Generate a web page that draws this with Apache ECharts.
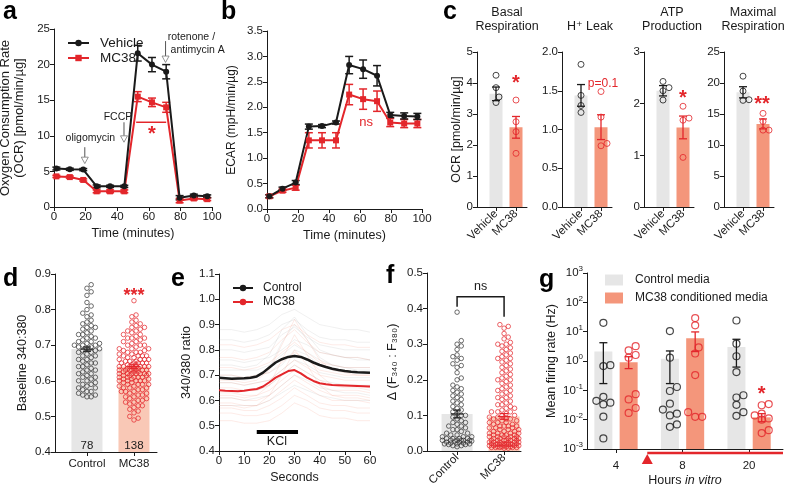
<!DOCTYPE html>
<html>
<head>
<meta charset="utf-8">
<script src="https://cdn.jsdelivr.net/npm/echarts@6/dist/echarts.min.js"></script>
<style>
  html, body { margin: 0; padding: 0; background: #fff; }
  #main { width: 787px; height: 488px; }
</style>
</head>
<body>
<div id="main"></div>
<script>
// ---------- data ----------
// a, b : Seahorse time course
const seahorseMinutes = [1.5, 10, 18.5, 27, 35.5, 44.5, 53, 62, 71, 79.5, 88.5, 97];
const ocrVehicle    = [5.4, 5.3, 5.25, 2.9, 2.9, 2.9, 21.6, 20.0, 19.0, 1.3, 1.6, 1.5];
const ocrVehicleSem = [0.2, 0.15, 0.15, 0.2, 0.15, 0.15, 1.1, 1.0, 1.0, 0.3, 0.2, 0.2];
const ocrMC38       = [4.3, 4.2, 3.8, 2.2, 2.2, 2.2, 15.5, 14.7, 14.0, 0.9, 1.2, 1.1];
const ocrMC38Sem    = [0.15, 0.15, 0.15, 0.2, 0.2, 0.2, 0.7, 0.6, 0.7, 0.3, 0.2, 0.2];
const ecarVehicle    = [0.25, 0.40, 0.52, 1.62, 1.63, 1.70, 2.83, 2.75, 2.62, 1.85, 1.83, 1.82];
const ecarVehicleSem = [0.03, 0.03, 0.04, 0.05, 0.03, 0.03, 0.17, 0.18, 0.2, 0.05, 0.06, 0.06];
const ecarMC38       = [0.25, 0.36, 0.42, 1.35, 1.35, 1.35, 2.25, 2.16, 2.12, 1.70, 1.68, 1.68];
const ecarMC38Sem    = [0.03, 0.03, 0.05, 0.15, 0.15, 0.15, 0.2, 0.2, 0.2, 0.08, 0.08, 0.08];

// c : OCR parameters
const ocrGroups = ['Vehicle', 'MC38'];
const ocrMeans = [[3.65, 2.57], [1.44, 1.03], [2.25, 1.54], [18.5, 13.4]];
const ocrSem = [[0.22, 0.35], [0.14, 0.16], [0.1, 0.22], [0.9, 0.8]];
const ocrPointsVehicle = [[4.25, 3.85, 3.55, 3.37], [1.84, 1.44, 1.31, 1.22], [2.43, 2.31, 2.25, 2.07], [21.1, 18.7, 17.3, 17.2]];
const ocrPointsMC38 = [[3.45, 2.75, 2.43, 1.73], [1.49, 1.16, 0.82, 0.79], [1.95, 1.72, 1.68, 0.96], [15.1, 13.8, 12.4, 12.4]];

// d : baseline 340:380
const cellGroups = ['Control', 'MC38'];
const cellCounts = ['78', '138'];
const baselineMeans = [0.689, 0.640];
const baselineSem = [0.006, 0.005];
const baselineControl = [
  0.87, 0.86, 0.85, 0.84, 0.82, 0.81, 0.80, 0.79, 0.785, 0.78,
  0.77, 0.765, 0.76, 0.755, 0.75, 0.75, 0.745, 0.74, 0.735, 0.73,
  0.73, 0.725, 0.72, 0.72, 0.715, 0.71, 0.71, 0.705, 0.705, 0.70,
  0.70, 0.70, 0.695, 0.695, 0.69, 0.69, 0.685, 0.685, 0.68, 0.68,
  0.675, 0.67, 0.67, 0.665, 0.66, 0.66, 0.655, 0.65, 0.65, 0.645,
  0.64, 0.64, 0.635, 0.63, 0.63, 0.625, 0.62, 0.62, 0.615, 0.61,
  0.61, 0.605, 0.60, 0.60, 0.595, 0.59, 0.585, 0.58, 0.58, 0.575,
  0.57, 0.57, 0.565, 0.56, 0.56, 0.555, 0.555, 0.59];
const baselineMC38 = [
  0.825, 0.785, 0.78, 0.77, 0.765, 0.76, 0.755, 0.75, 0.75, 0.745,
  0.74, 0.74, 0.735, 0.73, 0.73, 0.725, 0.72, 0.72, 0.715, 0.71,
  0.71, 0.705, 0.70, 0.70, 0.70, 0.695, 0.69, 0.69, 0.685, 0.685,
  0.68, 0.68, 0.675, 0.675, 0.67, 0.67, 0.67, 0.665, 0.665, 0.66,
  0.66, 0.66, 0.655, 0.655, 0.655, 0.65, 0.65, 0.65, 0.645, 0.645,
  0.645, 0.64, 0.64, 0.64, 0.64, 0.635, 0.635, 0.635, 0.63, 0.63,
  0.63, 0.63, 0.625, 0.625, 0.625, 0.62, 0.62, 0.62, 0.62, 0.615,
  0.615, 0.615, 0.61, 0.61, 0.61, 0.605, 0.605, 0.605, 0.60, 0.60,
  0.60, 0.60, 0.595, 0.595, 0.59, 0.59, 0.59, 0.585, 0.585, 0.58,
  0.58, 0.58, 0.575, 0.575, 0.57, 0.57, 0.565, 0.565, 0.56, 0.56,
  0.555, 0.555, 0.55, 0.55, 0.545, 0.545, 0.54, 0.54, 0.535, 0.53,
  0.53, 0.525, 0.52, 0.515, 0.51, 0.50, 0.495, 0.49, 0.62, 0.63,
  0.64, 0.65, 0.61, 0.62, 0.63, 0.64, 0.66, 0.60, 0.59, 0.67,
  0.68, 0.57, 0.61, 0.65, 0.69, 0.72, 0.63, 0.62];

// e : KCl traces
const eSeconds = [0, 2.5, 5, 7.5, 10, 12.5, 15, 17.5, 20, 22.5, 25, 27.5, 30, 32.5, 35, 37.5, 40, 42.5, 45, 47.5, 50, 52.5, 55, 57.5, 60];
const traceMeanControl = [0.690, 0.688, 0.686, 0.687, 0.688, 0.690, 0.695, 0.710, 0.730, 0.750, 0.763, 0.772, 0.776, 0.772, 0.762, 0.750, 0.740, 0.732, 0.725, 0.720, 0.716, 0.713, 0.711, 0.710, 0.709];
const traceMeanMC38 = [0.640, 0.638, 0.637, 0.636, 0.638, 0.642, 0.645, 0.655, 0.672, 0.690, 0.703, 0.716, 0.720, 0.707, 0.690, 0.677, 0.668, 0.664, 0.661, 0.660, 0.659, 0.658, 0.657, 0.656, 0.655];
const traceSeconds = [0, 5, 10, 15, 20, 25, 30, 35, 40, 45, 50, 55, 60];
const tracesControl = [
  [0.88, 0.88, 0.87, 0.88, 0.90, 0.94, 0.96, 0.93, 0.90, 0.89, 0.88, 0.88, 0.87],
  [0.84, 0.84, 0.83, 0.84, 0.86, 0.90, 0.92, 0.88, 0.85, 0.84, 0.84, 0.83, 0.83],
  [0.80, 0.80, 0.79, 0.80, 0.81, 0.86, 0.89, 0.85, 0.82, 0.81, 0.80, 0.80, 0.80],
  [0.76, 0.76, 0.75, 0.76, 0.77, 0.80, 0.84, 0.82, 0.79, 0.78, 0.77, 0.77, 0.76],
  [0.72, 0.72, 0.72, 0.72, 0.74, 0.78, 0.82, 0.79, 0.76, 0.74, 0.73, 0.73, 0.73],
  [0.70, 0.70, 0.69, 0.70, 0.71, 0.74, 0.80, 0.78, 0.74, 0.72, 0.71, 0.71, 0.71],
  [0.67, 0.67, 0.66, 0.67, 0.68, 0.72, 0.76, 0.74, 0.71, 0.70, 0.69, 0.69, 0.69],
  [0.64, 0.64, 0.64, 0.64, 0.66, 0.70, 0.74, 0.71, 0.68, 0.67, 0.66, 0.66, 0.66],
  [0.61, 0.61, 0.60, 0.61, 0.62, 0.66, 0.70, 0.68, 0.65, 0.64, 0.63, 0.63, 0.62],
  [0.58, 0.58, 0.58, 0.58, 0.60, 0.63, 0.66, 0.64, 0.62, 0.61, 0.60, 0.60, 0.60],
  [0.74, 0.74, 0.73, 0.74, 0.78, 0.88, 0.93, 0.86, 0.80, 0.78, 0.77, 0.76, 0.76],
  [0.69, 0.69, 0.68, 0.69, 0.73, 0.83, 0.90, 0.84, 0.77, 0.74, 0.73, 0.72, 0.72]];
const tracesMC38 = [
  [0.82, 0.82, 0.81, 0.82, 0.84, 0.88, 0.90, 0.86, 0.83, 0.82, 0.82, 0.81, 0.81],
  [0.77, 0.77, 0.76, 0.77, 0.79, 0.84, 0.88, 0.83, 0.79, 0.78, 0.77, 0.77, 0.76],
  [0.73, 0.73, 0.72, 0.73, 0.75, 0.79, 0.83, 0.79, 0.75, 0.74, 0.73, 0.73, 0.73],
  [0.70, 0.70, 0.69, 0.70, 0.71, 0.75, 0.79, 0.76, 0.72, 0.71, 0.70, 0.70, 0.70],
  [0.67, 0.67, 0.66, 0.67, 0.68, 0.72, 0.76, 0.73, 0.70, 0.69, 0.68, 0.68, 0.68],
  [0.65, 0.65, 0.64, 0.64, 0.66, 0.70, 0.74, 0.71, 0.68, 0.66, 0.66, 0.66, 0.65],
  [0.63, 0.63, 0.62, 0.62, 0.64, 0.68, 0.72, 0.69, 0.66, 0.64, 0.64, 0.64, 0.63],
  [0.61, 0.61, 0.60, 0.60, 0.62, 0.66, 0.70, 0.67, 0.64, 0.62, 0.62, 0.62, 0.61],
  [0.59, 0.59, 0.58, 0.58, 0.60, 0.64, 0.68, 0.65, 0.62, 0.60, 0.60, 0.60, 0.59],
  [0.57, 0.57, 0.56, 0.56, 0.58, 0.61, 0.65, 0.62, 0.59, 0.58, 0.58, 0.57, 0.57],
  [0.55, 0.55, 0.54, 0.54, 0.55, 0.58, 0.62, 0.60, 0.57, 0.56, 0.56, 0.55, 0.55],
  [0.52, 0.52, 0.51, 0.51, 0.52, 0.55, 0.59, 0.57, 0.54, 0.53, 0.53, 0.52, 0.52],
  [0.68, 0.68, 0.67, 0.68, 0.72, 0.82, 0.92, 0.84, 0.76, 0.72, 0.71, 0.70, 0.70],
  [0.62, 0.62, 0.61, 0.62, 0.66, 0.76, 0.86, 0.78, 0.70, 0.66, 0.65, 0.65, 0.64],
  [0.58, 0.58, 0.57, 0.58, 0.62, 0.70, 0.80, 0.74, 0.66, 0.62, 0.61, 0.61, 0.60]];

// f : KCl response amplitude
const responseMeans = [0.104, 0.097];
const responseSem = [0.011, 0.008];
const responseControl = [
  0.39, 0.31, 0.30, 0.295, 0.285, 0.27, 0.265, 0.26, 0.255, 0.245,
  0.24, 0.235, 0.22, 0.205, 0.20, 0.185, 0.18, 0.175, 0.17, 0.165,
  0.16, 0.155, 0.15, 0.145, 0.14, 0.135, 0.13, 0.125, 0.12, 0.115,
  0.11, 0.105, 0.10, 0.10, 0.095, 0.09, 0.085, 0.08, 0.08, 0.075,
  0.07, 0.07, 0.065, 0.06, 0.06, 0.055, 0.05, 0.05, 0.045, 0.045,
  0.04, 0.04, 0.04, 0.035, 0.035, 0.035, 0.03, 0.03, 0.03, 0.03,
  0.03, 0.028, 0.028, 0.025, 0.025, 0.025, 0.022, 0.022, 0.02, 0.02,
  0.02, 0.018, 0.018, 0.015, 0.015, 0.012, 0.03, 0.035];
const responseMC38 = [
  0.355, 0.35, 0.345, 0.33, 0.32, 0.315, 0.305, 0.30, 0.295, 0.29,
  0.285, 0.28, 0.275, 0.27, 0.265, 0.26, 0.255, 0.25, 0.245, 0.24,
  0.235, 0.225, 0.22, 0.215, 0.21, 0.205, 0.20, 0.195, 0.19, 0.185,
  0.18, 0.175, 0.17, 0.165, 0.16, 0.155, 0.15, 0.145, 0.14, 0.135,
  0.13, 0.125, 0.12, 0.12, 0.115, 0.11, 0.11, 0.105, 0.10, 0.10,
  0.095, 0.095, 0.09, 0.09, 0.085, 0.085, 0.08, 0.08, 0.08, 0.075,
  0.075, 0.07, 0.07, 0.07, 0.065, 0.065, 0.065, 0.06, 0.06, 0.06,
  0.055, 0.055, 0.055, 0.05, 0.05, 0.05, 0.05, 0.045, 0.045, 0.045,
  0.045, 0.04, 0.04, 0.04, 0.04, 0.04, 0.035, 0.035, 0.035, 0.035,
  0.035, 0.03, 0.03, 0.03, 0.03, 0.03, 0.03, 0.025, 0.025, 0.025,
  0.025, 0.025, 0.025, 0.02, 0.02, 0.02, 0.02, 0.02, 0.02, 0.02,
  0.018, 0.018, 0.018, 0.018, 0.015, 0.015, 0.015, 0.015, 0.015, 0.012,
  0.012, 0.012, 0.012, 0.01, 0.01, 0.01, 0.01, 0.01, 0.008, 0.008,
  0.26, 0.30, 0.23, 0.20, 0.17, 0.15, 0.13, 0.11, 0.09, 0.07];

// g : MEA firing rate (log)
const hoursLabels = ['4', '8', '20'];
const firingControlMean = [2.1, 1.2, 3.0];
const firingControlErr = [[0.17, 4.2], [0.17, 2.2], [0.62, 5.5]];
const firingMC38Mean = [0.9, 6.0, 0.012];
const firingMC38Err = [[0.55, 1.4], [2.1, 9.8], [0.0085, 0.016]];
const firingControlPoints = [
  [20, 0.72, 0.67, 0.060, 0.044, 0.038, 0.033, 0.0126, 0.0023],
  [10.5, 1.3, 0.13, 0.095, 0.035, 0.022, 0.016, 0.014, 0.0069, 0.0057],
  [24, 3.9, 1.45, 0.42, 0.068, 0.057, 0.032, 0.018, 0.0135]];
const firingMC38Points = [
  [3.2, 2.3, 1.6, 1.3, 0.074, 0.049, 0.025, 0.017],
  [29, 16.5, 2.9, 1.8, 0.33, 0.018, 0.0125, 0.0125],
  [0.034, 0.031, 0.016, 0.014, 0.011, 0.010, 0.0044, 0.0035]];

// ---------- style ----------
const FONT = '"Liberation Sans", Arial, Helvetica, "DejaVu Sans", sans-serif';
const INK = '#1a1a1a';
const RED = '#e3262b';
const GRAY_BAR = '#e6e6e6';
const SALMON = '#f4967b';
const SALMON_LIGHT = '#f9c8b6';

const zip = (xs, ys) => xs.map((x, i) => [x, ys[i]]);

function axis(gi, o) {
  const a = {
    gridIndex: gi, type: 'value',
    axisLine: { show: true, onZero: false, lineStyle: { color: INK, width: 1 } },
    axisTick: { show: true, inside: false, length: 4, lineStyle: { color: INK, width: 1 } },
    axisLabel: { color: INK, fontSize: 11.5, fontFamily: FONT, margin: 4 },
    splitLine: { show: false },
    nameLocation: 'middle',
    nameTextStyle: { color: INK, fontSize: 12.5, fontFamily: FONT }
  };
  Object.keys(o).forEach(k => {
    if (o[k] && typeof o[k] === 'object' && !Array.isArray(o[k]) && a[k]) Object.assign(a[k], o[k]);
    else a[k] = o[k];
  });
  return a;
}

const fix1 = v => v.toFixed(1);

function errorBars(gi, rows, color, cap, width) {
  return {
    type: 'custom', xAxisIndex: gi, yAxisIndex: gi, silent: true, z: 4, clip: false,
    data: rows,
    renderItem: function (params, api) {
      const x = api.value(0);
      const lo = api.coord([x, api.value(1)]);
      const hi = api.coord([x, api.value(2)]);
      const st = { stroke: color, lineWidth: width };
      const kids = [
        { type: 'line', shape: { x1: lo[0], y1: lo[1], x2: hi[0], y2: hi[1] }, style: st },
        { type: 'line', shape: { x1: hi[0] - cap, y1: hi[1], x2: hi[0] + cap, y2: hi[1] }, style: st },
        { type: 'line', shape: { x1: lo[0] - cap, y1: lo[1], x2: lo[0] + cap, y2: lo[1] }, style: st }
      ];
      if (api.value(3) > 0) {
        const m = api.coord([x, api.value(3)]);
        kids.push({ type: 'line', shape: { x1: m[0] - cap * 1.6, y1: m[1], x2: m[0] + cap * 1.6, y2: m[1] }, style: st });
      }
      return { type: 'group', children: kids };
    }
  };
}

function bars(gi, rows, color, w, name) {
  return {
    type: 'custom', name: name, xAxisIndex: gi, yAxisIndex: gi, silent: true, z: 1,
    itemStyle: { color: color },
    data: rows,
    renderItem: function (params, api) {
      const p = api.coord([api.value(0), api.value(1)]);
      const cs = params.coordSys;
      return { type: 'rect', shape: { x: p[0] - w / 2, y: p[1], width: w, height: cs.y + cs.height - p[1] }, style: { fill: color } };
    }
  };
}

function dots(gi, pts, color, size, bw) {
  return {
    type: 'scatter', xAxisIndex: gi, yAxisIndex: gi, data: pts, symbol: 'circle', symbolSize: size,
    silent: true, z: 3,
    itemStyle: { color: 'rgba(255,255,255,0)', borderColor: color, borderWidth: bw }
  };
}

// beeswarm layout: x offsets (in axis units) so circles do not pile up
function swarm(values, center, unitPx, toPx, diam, maxHalf) {
  const order = values.map((v, i) => i).sort((a, b) => values[a] - values[b]);
  const placed = [];
  const out = new Array(values.length);
  const step = diam / 2;
  order.forEach(i => {
    const y = toPx(values[i]);
    let bestOff = 0, bestGap = -1;
    for (let k = 0; k < 80; k++) {
      const off = (k % 2 === 1 ? 1 : -1) * Math.ceil(k / 2) * step;
      if (Math.abs(off) > maxHalf) break;
      let gap = Infinity;
      placed.forEach(p => { const d = Math.hypot(p[0] - off, p[1] - y); if (d < gap) gap = d; });
      if (gap >= diam) { bestOff = off; break; }
      if (gap > bestGap) { bestGap = gap; bestOff = off; }
    }
    placed.push([bestOff, y]);
    out[i] = [center + bestOff / unitPx, values[i]];
  });
  return out;
}

// ---------- layout ----------
const grids = [
  { left: 54, top: 29, width: 158, height: 178 },   // 0 a
  { left: 267, top: 31, width: 155, height: 178 },  // 1 b
  { left: 477, top: 52, width: 50, height: 155 },   // 2 c basal
  { left: 562, top: 52, width: 50, height: 155 },   // 3 c leak
  { left: 644, top: 52, width: 50, height: 155 },   // 4 c ATP
  { left: 724, top: 52, width: 50, height: 155 },   // 5 c maximal
  { left: 55, top: 274, width: 102, height: 178 },  // 6 d
  { left: 219, top: 274, width: 151, height: 177 }, // 7 e
  { left: 427, top: 273, width: 94, height: 178 },  // 8 f
  { left: 587, top: 273, width: 196, height: 176 }  // 9 g
].map(g => Object.assign({ outerBoundsMode: 'none', containLabel: false }, g));

const xAxes = [], yAxes = [], series = [];

// a
xAxes.push(axis(0, { min: 0, max: 100, interval: 20, name: 'Time (minutes)', nameGap: 20 }));
yAxes.push(axis(0, { min: 0, max: 25, interval: 5, name: 'Oxygen Consumption Rate\n(OCR) [pmol/min/µg]', nameGap: 28, nameRotate: 90,
  nameTextStyle: { fontSize: 13, lineHeight: 14 } }));
// b
xAxes.push(axis(1, { min: 0, max: 100, interval: 20, name: 'Time (minutes)', nameGap: 20 }));
yAxes.push(axis(1, { min: 0, max: 3.5, interval: 0.5, axisLabel: { formatter: fix1 }, name: 'ECAR (mpH/min/µg)', nameGap: 29, nameRotate: 90,
  nameTextStyle: { fontSize: 12 } }));

function timeCourse(gi, mean, sem, color, symbol, name) {
  series.push({
    type: 'line', name: name, xAxisIndex: gi, yAxisIndex: gi, data: zip(seahorseMinutes, mean),
    symbol: symbol, symbolSize: 6, showAllSymbol: true, z: 5,
    lineStyle: { color: color, width: 2 }, itemStyle: { color: color }
  });
  series.push(errorBars(gi, seahorseMinutes.map((t, i) => [t, mean[i] - sem[i], mean[i] + sem[i]]), color, 4, 1.5));
}
timeCourse(0, ocrMC38, ocrMC38Sem, RED, 'rect', 'MC38');
timeCourse(0, ocrVehicle, ocrVehicleSem, INK, 'circle', 'Vehicle');
timeCourse(1, ecarMC38, ecarMC38Sem, RED, 'rect', 'ecar MC38');
timeCourse(1, ecarVehicle, ecarVehicleSem, INK, 'circle', 'ecar Vehicle');

// c
const cY = [
  { min: 0, max: 5, interval: 1 },
  { min: 0, max: 2, interval: 0.5, axisLabel: { formatter: fix1 } },
  { min: 0, max: 3, interval: 1 },
  { min: 0, max: 25, interval: 5 }
];
for (let k = 0; k < 4; k++) {
  const gi = 2 + k;
  xAxes.push(axis(gi, {
    min: -0.95, max: 1.55,
    axisTick: { customValues: [0, 1] },
    axisLabel: { customValues: [0, 1], rotate: 45, margin: 5, formatter: v => ocrGroups[Math.round(v)] }
  }));
  const yo = Object.assign({}, cY[k]);
  if (k === 0) Object.assign(yo, { name: 'OCR [pmol/min/µg]', nameGap: 13, nameRotate: 90, nameTextStyle: { fontSize: 12.5 } });
  yAxes.push(axis(gi, yo));
  const pxPerVal = 155 / cY[k].max;
  series.push(bars(gi, [[0, ocrMeans[k][0]]], GRAY_BAR, 13));
  series.push(bars(gi, [[1, ocrMeans[k][1]]], SALMON, 13));
  series.push(dots(gi, swarm(ocrPointsVehicle[k], 0, 20, v => v * pxPerVal, 6, 8), INK, 6, 1));
  series.push(dots(gi, swarm(ocrPointsMC38[k], 1, 20, v => v * pxPerVal, 6, 8), RED, 6, 1));
  series.push(errorBars(gi, [[0, ocrMeans[k][0] - ocrSem[k][0], ocrMeans[k][0] + ocrSem[k][0]]], INK, 4, 1.3));
  series.push(errorBars(gi, [[1, ocrMeans[k][1] - ocrSem[k][1], ocrMeans[k][1] + ocrSem[k][1]]], RED, 4, 1.3));
}

// d
xAxes.push(axis(6, {
  min: -0.68, max: 1.49,
  axisTick: { customValues: [0, 1] },
  axisLabel: { customValues: [0, 1], margin: 6, formatter: v => cellGroups[Math.round(v)] }
}));
yAxes.push(axis(6, { min: 0.4, max: 0.9, interval: 0.1, axisLabel: { formatter: fix1 }, name: 'Baseline 340:380', nameGap: 26, nameRotate: 90 }));
series.push(bars(6, [[0, baselineMeans[0]]], GRAY_BAR, 31));
series.push(bars(6, [[1, baselineMeans[1]]], SALMON_LIGHT, 31));
series.push(dots(6, swarm(baselineControl, 0, 47, v => v * 356, 4.2, 15), '#333', 4.5, 0.9));
series.push(dots(6, swarm(baselineMC38, 1, 47, v => v * 356, 4.2, 15), RED, 4.5, 0.9));
series.push(errorBars(6, [[0, baselineMeans[0] - baselineSem[0], baselineMeans[0] + baselineSem[0], baselineMeans[0]]], INK, 4, 1.2));
series.push(errorBars(6, [[1, baselineMeans[1] - baselineSem[1], baselineMeans[1] + baselineSem[1], baselineMeans[1]]], RED, 4, 1.2));

// e
xAxes.push(axis(7, { min: 0, max: 60, interval: 10, name: 'Seconds', nameGap: 20 }));
yAxes.push(axis(7, { min: 0.4, max: 1.1, interval: 0.1, axisLabel: { formatter: fix1 }, name: '340/380 ratio', nameGap: 26, nameRotate: 90 }));
tracesControl.forEach(tr => series.push({
  type: 'line', xAxisIndex: 7, yAxisIndex: 7, data: zip(traceSeconds, tr), symbol: 'none', silent: true, z: 1,
  lineStyle: { color: 'rgba(160,160,160,0.2)', width: 0.8 }
}));
tracesMC38.forEach(tr => series.push({
  type: 'line', xAxisIndex: 7, yAxisIndex: 7, data: zip(traceSeconds, tr), symbol: 'none', silent: true, z: 1,
  lineStyle: { color: 'rgba(244,140,115,0.22)', width: 0.8 }
}));
series.push({ type: 'line', name: 'Control', xAxisIndex: 7, yAxisIndex: 7, data: zip(eSeconds, traceMeanControl), symbol: 'none', z: 5,
  lineStyle: { color: INK, width: 2.5 }, itemStyle: { color: INK } });
series.push({ type: 'line', name: 'MC38 ', xAxisIndex: 7, yAxisIndex: 7, data: zip(eSeconds, traceMeanMC38), symbol: 'none', z: 5,
  lineStyle: { color: RED, width: 2 }, itemStyle: { color: RED } });

// f
xAxes.push(axis(8, {
  min: -0.64, max: 1.36,
  axisTick: { customValues: [0, 1] },
  axisLabel: { customValues: [0, 1], rotate: 45, margin: 5, formatter: v => cellGroups[Math.round(v)] }
}));
yAxes.push(axis(8, { min: 0, max: 0.5, interval: 0.1, axisLabel: { formatter: fix1 }, name: 'Δ (F₃₄₀ : F₃₈₀)', nameGap: 28, nameRotate: 90 }));
series.push(bars(8, [[0, responseMeans[0]]], GRAY_BAR, 31));
series.push(bars(8, [[1, responseMeans[1]]], SALMON_LIGHT, 31));
series.push(dots(8, swarm(responseControl, 0, 47, v => v * 356, 4.2, 15), '#333', 4.5, 0.9));
series.push(dots(8, swarm(responseMC38, 1, 47, v => v * 356, 4.2, 15), RED, 4.5, 0.9));
series.push(errorBars(8, [[0, responseMeans[0] - responseSem[0], responseMeans[0] + responseSem[0], responseMeans[0]]], INK, 4, 1.2));
series.push(errorBars(8, [[1, responseMeans[1] - responseSem[1], responseMeans[1] + responseSem[1], responseMeans[1]]], RED, 4, 1.2));

// g
xAxes.push(axis(9, {
  min: -0.436, max: 2.51,
  axisTick: { customValues: [0, 1, 2] },
  axisLabel: { customValues: [0, 1, 2], margin: 11, formatter: v => hoursLabels[Math.round(v)] },
  name: 'Hours {i|in vitro}', nameGap: 25,
  nameTextStyle: { rich: { i: { fontStyle: 'italic', fontSize: 12.5, fontFamily: FONT, color: INK } } }
}));
yAxes.push(axis(9, {
  type: 'log', logBase: 10, min: 0.001, max: 1000, splitNumber: 6,
  axisLabel: {
    lineHeight: 16,
    formatter: v => '10{e|' + Math.round(Math.log10(v)) + '}',
    rich: { e: { fontSize: 8, lineHeight: 8, verticalAlign: 'top', fontFamily: FONT, color: INK } }
  },
  name: 'Mean firing rate (Hz)', nameGap: 29, nameRotate: 90
}));
const gOff = 0.19;
const logPx = v => Math.log10(v) * (176 / 6);
series.push(bars(9, firingControlMean.map((m, i) => [i - gOff, m]), GRAY_BAR, 18, 'Control media'));
series.push(bars(9, firingMC38Mean.map((m, i) => [i + gOff, m]), SALMON, 18, 'MC38 conditioned media'));
firingControlPoints.forEach((pts, i) => series.push(dots(9, swarm(pts, i - gOff, 66.5, logPx, 7, 9), INK, 7, 1.2)));
firingMC38Points.forEach((pts, i) => series.push(dots(9, swarm(pts, i + gOff, 66.5, logPx, 7, 9), RED, 7, 1.2)));
series.push(errorBars(9, firingControlErr.map((e, i) => [i - gOff, e[0], e[1]]), INK, 4, 1.3));
series.push(errorBars(9, firingMC38Err.map((e, i) => [i + gOff, e[0], e[1]]), RED, 4, 1.3));

const legendBase = { orient: 'vertical', selectedMode: false, itemGap: 1 };
const option = {
  animation: false,
  backgroundColor: '#fff',
  textStyle: { fontFamily: FONT },
  grid: grids,
  xAxis: xAxes,
  yAxis: yAxes,
  legend: [
    Object.assign({}, legendBase, { data: ['Vehicle', 'MC38'], left: 62, top: 31, itemWidth: 21, itemHeight: 8,
      textStyle: { fontSize: 13.5, color: INK, padding: [0, 0, 0, 6] } }),
    Object.assign({}, legendBase, { data: ['Control', 'MC38 '], left: 227, top: 277, itemWidth: 20, itemHeight: 8, itemGap: 2,
      textStyle: { fontSize: 12, color: INK, padding: [0, 0, 0, 5] } }),
    Object.assign({}, legendBase, { data: ['Control media', 'MC38 conditioned media'], left: 600, top: 269, icon: 'rect',
      itemWidth: 18, itemHeight: 11, itemGap: 6, textStyle: { fontSize: 12, color: INK, padding: [0, 0, 0, 7] } })
  ],
  series: series
};

const chart = echarts.init(document.getElementById('main'));
chart.setOption(option);

// ---------- annotations ----------
const P = (gi, x, y) => chart.convertToPixel({ gridIndex: gi }, [x, y]);
function txt(p, text, size, color, align, weight) {
  return { type: 'text', x: p[0], y: p[1], silent: true, z: 20,
    style: { text: text, fill: color || INK, font: (weight || 'normal') + ' ' + size + 'px ' + FONT,
      textAlign: align || 'center', align: align || 'center', textVerticalAlign: 'middle', verticalAlign: 'middle' } };
}
function seg(p1, p2, color, w) {
  return { type: 'line', silent: true, z: 20, shape: { x1: p1[0], y1: p1[1], x2: p2[0], y2: p2[1] }, style: { stroke: color, lineWidth: w } };
}
function downArrow(gi, t, yTop, yHead, yTip) {
  const a = P(gi, t, yTop), b = P(gi, t, yHead), c = P(gi, t, yTip);
  return [
    seg(a, b, '#555', 1),
    { type: 'polygon', silent: true, z: 20, shape: { points: [[b[0] - 3.5, b[1]], [b[0] + 3.5, b[1]], [c[0], c[1]]] },
      style: { fill: '#fff', stroke: '#777', lineWidth: 0.8 } }
  ];
}
const graphics = [];
// panel letters
[['a', 3, 12], ['b', 221, 12], ['c', 443, 12], ['d', 3, 279], ['e', 171, 279], ['f', 386, 276], ['g', 539, 280]]
  .forEach(l => graphics.push(txt([l[1], l[2]], l[0], 25, '#000', 'left', 'bold')));
// a
graphics.push(txt(P(0, 23, 9.7), 'oligomycin', 10.5));
graphics.push(...downArrow(0, 19.5, 8.4, 7.0, 6.1));
graphics.push(txt(P(0, 40.5, 12.6), 'FCCP', 10.5));
graphics.push(...downArrow(0, 44.3, 11.9, 10.0, 9.1));
graphics.push(txt(P(0, 72.0, 23.9), 'rotenone /', 10.5, INK, 'left'));
graphics.push(txt(P(0, 73.8, 22.0), 'antimycin A', 10.5, INK, 'left'));
graphics.push(...downArrow(0, 70.6, 23.3, 21.2, 20.3));
graphics.push(seg(P(0, 52, 11.9), P(0, 71, 11.9), RED, 1.5));
graphics.push(txt(P(0, 62, 10.2), '*', 20, RED, 'center', 'bold'));
// b
graphics.push(txt(P(1, 64, 1.70), 'ns', 13, RED));
// c
[['Basal', 'Respiration', 507], ['', 'H⁺ Leak', 590], ['ATP', 'Production', 672], ['Maximal', 'Respiration', 753]].forEach(t => {
  if (t[0]) graphics.push(txt([t[2], 13], t[0], 12.5));
  graphics.push(txt([t[2], 27], t[1], 12.5));
});
graphics.push(txt(P(2, 1, 4.0), '*', 20, RED, 'center', 'bold'));
graphics.push(txt(P(3, 1.1, 1.59), 'p=0.1', 12, RED));
graphics.push(txt(P(4, 1, 2.1), '*', 20, RED, 'center', 'bold'));
graphics.push(txt(P(5, 0.95, 16.6), '**', 20, RED, 'center', 'bold'));
// d
graphics.push(txt(P(6, 1, 0.838), '***', 18, RED, 'center', 'bold'));
graphics.push(txt(P(6, 0, 0.418), cellCounts[0], 11.5));
graphics.push(txt(P(6, 1, 0.418), cellCounts[1], 11.5));
// e
graphics.push(seg(P(7, 15, 0.475), P(7, 31.4, 0.475), '#000', 4));
graphics.push(txt(P(7, 23, 0.437), 'KCl', 12.5));
// f
{
  const p1 = P(8, 0, 0.405), p2 = P(8, 0, 0.433), p3 = P(8, 1, 0.433), p4 = P(8, 1, 0.377);
  graphics.push({ type: 'polyline', silent: true, z: 20, shape: { points: [p1, p2, p3, p4] }, style: { stroke: INK, lineWidth: 1.5, fill: null } });
  graphics.push(txt(P(8, 0.5, 0.462), 'ns', 12.5));
}
// g
graphics.push(txt(P(9, 2 + gOff, 0.075), '*', 20, RED, 'center', 'bold'));
{
  const s = P(9, 0.47, 0.001), e = P(9, 2.51, 0.001);
  graphics.push(seg([s[0], s[1] + 4], [e[0], e[1] + 4], RED, 2.5));
  graphics.push({ type: 'polygon', silent: true, z: 20,
    shape: { points: [[s[0], s[1] + 5], [s[0] + 5.5, s[1] + 15], [s[0] - 5.5, s[1] + 15]] }, style: { fill: RED } });
}
chart.setOption({ graphic: graphics });
</script>
</body>
</html>
